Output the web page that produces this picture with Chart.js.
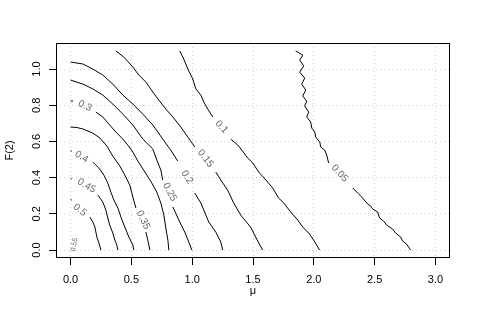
<!DOCTYPE html>
<html>
<head>
<meta charset="utf-8">
<script src="https://cdn.jsdelivr.net/npm/chart.js@4.4.0/dist/chart.umd.min.js"></script>
<style>
  body { margin: 0; background: #fff; }
  canvas { display: block; }
</style>
</head>
<body>
<canvas id="chart" width="479" height="315"></canvas>
<script>
// contour lines (null = gap where the label sits)
const c50x = [0, 0.01, null, 0.159, 0.183, 0.20, 0.208, 0.216, 0.233, 0.249];
const c50y = [0.28, 0.275, null, 0.182, 0.155, 0.127, 0.099, 0.072, 0.039, 0];

const c45x = [0, 0.01, null, 0.224, 0.265, 0.29, 0.306, 0.322, 0.347, 0.364, 0.38, 0.389];
const c45y = [0.398, 0.392, null, 0.304, 0.265, 0.221, 0.177, 0.138, 0.094, 0.055, 0.028, 0];

const c40x = [0, 0.01, null, 0.183, 0.233, 0.274, 0.306, 0.331, 0.356, 0.389, 0.414, 0.439, 0.479, 0.512, 0.52];
const c40y = [0.55, 0.545, null, 0.486, 0.453, 0.414, 0.37, 0.32, 0.276, 0.232, 0.182, 0.138, 0.072, 0.028, 0];

const c35x = [0, 0.052, 0.101, 0.183, 0.241, 0.298, 0.347, 0.405, 0.446, 0.487, 0.512, 0.537, null, 0.619, 0.635, 0.652];
const c35y = [0.68, 0.677, 0.669, 0.646, 0.619, 0.575, 0.519, 0.464, 0.414, 0.359, 0.293, 0.232, null, 0.099, 0.055, 0];

const c30x = [0, 0.02, null, 0.208, 0.265, 0.315, 0.372, 0.43, 0.471, 0.512, 0.553, 0.611, 0.668, 0.709, 0.742, 0.767, 0.783, 0.80, 0.808];
const c30y = [0.823, 0.823, null, 0.762, 0.735, 0.696, 0.652, 0.613, 0.58, 0.541, 0.492, 0.431, 0.37, 0.32, 0.26, 0.193, 0.122, 0.055, 0];

const c25x = [0, 0.101, 0.183, 0.265, 0.347, 0.43, 0.512, 0.594, 0.676, 0.709, 0.742, 0.758, null, 0.841, 0.89, 0.939, 0.972, 0.997];
const c25y = [0.939, 0.917, 0.89, 0.856, 0.807, 0.751, 0.691, 0.613, 0.558, 0.497, 0.442, 0.387, null, 0.238, 0.166, 0.099, 0.044, 0];

const c20x = [0, 0.101, 0.183, 0.265, 0.347, 0.43, 0.512, 0.594, 0.676, 0.758, 0.824, 0.881, null, 1.021, 1.071, 1.095, 1.136, 1.194, 1.235, 1.251];
const c20y = [1.039, 1.028, 1.0, 0.967, 0.917, 0.856, 0.807, 0.751, 0.691, 0.613, 0.552, 0.492, null, 0.315, 0.26, 0.221, 0.155, 0.099, 0.044, 0];

const c15x = [0.373, 0.438, 0.512, 0.561, 0.619, 0.676, 0.725, 0.783, 0.841, 0.906, 0.964, 1.021, null, 1.194, 1.235, 1.292, 1.341, 1.399, 1.48, 1.522, 1.547, 1.58];
const c15y = [1.1, 1.066, 1.011, 0.967, 0.928, 0.873, 0.829, 0.779, 0.735, 0.68, 0.624, 0.569, null, 0.431, 0.387, 0.331, 0.26, 0.193, 0.127, 0.072, 0.039, 0];

const c10x = [0.898, 0.931, 0.964, 1.005, 1.03, 1.071, 1.095, 1.128, 1.169, null, 1.317, 1.375, 1.408, 1.457, 1.498, 1.547, 1.605, 1.662, 1.711, 1.753, 1.81, 1.868, 1.909, 1.958, 1.999, 2.048];
const c10y = [1.1, 1.055, 1.0, 0.945, 0.89, 0.856, 0.818, 0.779, 0.735, null, 0.613, 0.58, 0.552, 0.508, 0.481, 0.431, 0.387, 0.343, 0.287, 0.26, 0.21, 0.166, 0.127, 0.094, 0.055, 0];

const c05x = [1.851, 1.909, 1.884, 1.917, 1.884, 1.925, 1.901, 1.934, 1.909, 1.942, 1.925, 1.958, 1.942, 1.975, 1.983, 2.008, 2.016, 2.049, 2.057, 2.09, 2.106, 2.122, null,
              2.32, 2.361, 2.394, 2.443, 2.468, 2.484, 2.525, 2.541, 2.574, 2.599, 2.648, 2.673, 2.714, 2.73, 2.763, 2.779, 2.796];
const c05y = [1.1, 1.077, 1.05, 1.017, 0.983, 0.95, 0.917, 0.884, 0.851, 0.823, 0.796, 0.762, 0.735, 0.707, 0.674, 0.652, 0.624, 0.597, 0.569, 0.552, 0.525, 0.481, null,
              0.343, 0.315, 0.293, 0.254, 0.243, 0.227, 0.21, 0.177, 0.16, 0.138, 0.116, 0.094, 0.072, 0.05, 0.033, 0.017, 0];

// contour labels
const labelText = ['0.55', '0.5', '0.45', '0.4', '0.35', '0.3', '0.25', '0.2', '0.15', '0.1', '0.05'];
const labelX = [0.03, 0.076, 0.131, 0.09, 0.597, 0.118, 0.816, 0.958, 1.109, 1.241, 2.213];
const labelY = [0.03, 0.221, 0.355, 0.515, 0.166, 0.796, 0.32, 0.403, 0.506, 0.68, 0.424];
const labelAngle = [-80, 40, 30, 30, 65, 25, 62, 58, 52, 48, 47];

const xTicks = [0, 0.5, 1, 1.5, 2, 2.5, 3];
const yTicks = [0, 0.2, 0.4, 0.6, 0.8, 1.0];

const contours = [[c50x, c50y], [c45x, c45y], [c40x, c40y], [c35x, c35y], [c30x, c30y],
                  [c25x, c25y], [c20x, c20y], [c15x, c15y], [c10x, c10y], [c05x, c05y]];

const datasets = contours.map(([xs, ys]) => ({
    data: xs.map((x, i) => ({ x: x, y: ys[i] })),
    showLine: true,
    spanGaps: false,
    borderColor: '#000',
    borderWidth: 1,
    pointRadius: 0,
    tension: 0
}));

const font = { family: 'Liberation Sans, Arial, sans-serif', size: 11 };

const boxAndLabels = {
    id: 'boxAndLabels',
    beforeDraw(chart) {
        const ctx = chart.ctx;
        ctx.save();
        ctx.fillStyle = '#fff';
        ctx.fillRect(0, 0, chart.width, chart.height);
        ctx.restore();
    },
    afterDatasetsDraw(chart) {
        const { ctx, chartArea: a, scales } = chart;
        ctx.save();
        ctx.fillStyle = '#6a6a6a';
        ctx.textAlign = 'center';
        ctx.textBaseline = 'middle';
        labelText.forEach((t, i) => {
            ctx.save();
            ctx.translate(scales.x.getPixelForValue(labelX[i]), scales.y.getPixelForValue(labelY[i]));
            ctx.rotate(labelAngle[i] * Math.PI / 180);
            ctx.font = (t === '0.55' ? '7px' : '10px') + ' Liberation Sans, Arial, sans-serif';
            ctx.fillText(t, 0, 0);
            ctx.restore();
        });
        ctx.strokeStyle = '#000';
        ctx.lineWidth = 1;
        ctx.strokeRect(Math.round(a.left) + 0.5, Math.round(a.top) + 0.5,
                       Math.round(a.right - a.left) - 1, Math.round(a.bottom - a.top) - 1);
        ctx.restore();
    }
};

new Chart(document.getElementById('chart'), {
    type: 'scatter',
    data: { datasets: datasets },
    options: {
        responsive: false,
        animation: false,
        devicePixelRatio: 1,
        layout: { padding: { top: 43, right: 29, left: 0, bottom: 0 } },
        plugins: { legend: { display: false }, tooltip: { enabled: false } },
        scales: {
            x: {
                type: 'linear',
                min: -0.12,
                max: 3.12,
                afterBuildTicks: s => { s.ticks = xTicks.map(v => ({ value: v })); },
                afterFit: s => { s.height = 57; },
                ticks: { font: font, color: '#000', padding: 8, maxRotation: 0, callback: v => v.toFixed(1) },
                grid: { color: '#cfcfcf', tickColor: '#000', tickLength: 7, tickBorderDash: [] },
                border: { display: false, dash: [1, 3] },
                title: { display: true, text: 'μ', font: font, color: '#000', padding: { top: 0, bottom: 17 } }
            },
            y: {
                type: 'linear',
                min: -0.044,
                max: 1.144,
                afterBuildTicks: s => { s.ticks = yTicks.map(v => ({ value: v })); },
                afterFit: s => { s.width = 56; },
                ticks: { font: font, color: '#000', padding: 4, minRotation: 90, maxRotation: 90, crossAlign: 'center', callback: v => v.toFixed(1) },
                grid: { color: '#cfcfcf', tickColor: '#000', tickLength: 7, tickBorderDash: [] },
                border: { display: false, dash: [1, 3] },
                title: { display: true, text: 'F(2)', font: font, color: '#000', padding: { top: 3.5, bottom: 0 } }
            }
        }
    },
    plugins: [boxAndLabels]
});
</script>
</body>
</html>
